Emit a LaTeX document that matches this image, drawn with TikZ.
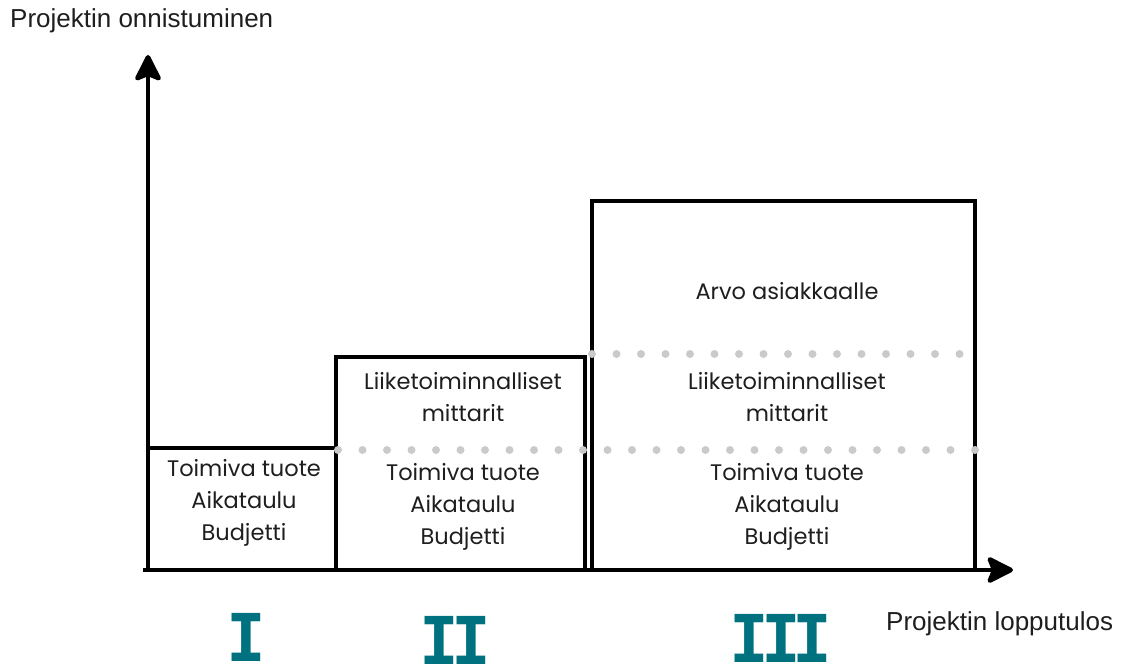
\documentclass[tikz,border=0pt]{standalone}
\usepackage{fontspec}
\setmainfont{Liberation Sans}
\newfontfamily\boxfont{Poppins}
\newfontfamily\numfont{DejaVu Sans Mono}
\usetikzlibrary{arrows.meta}
\definecolor{ink}{HTML}{1E1E1E}
\definecolor{teal}{HTML}{00717F}
\definecolor{dotgray}{HTML}{CACACA}
\newcommand{\nk}{\kern-8pt}
\tikzset{
  axis/.style={line width=4.5pt, black, -{Stealth[length=30pt,width=30pt,inset=6pt,round]}},
  stage/.style={line width=3.5pt, black},
  divider/.style={dotgray, line width=8pt, line cap=round, dash pattern=on 0pt off 24.5pt},
  boxtext/.style={font=\boxfont\fontsize{22.5}{32}\selectfont, text=ink, align=center, inner sep=0pt},
  axislabel/.style={font=\fontsize{26}{28}\selectfont, text=ink, inner sep=0pt},
  numeral/.style={font=\numfont\bfseries\fontsize{66}{66}\selectfont, text=teal,
    inner sep=0pt, text height=48pt, text depth=0pt, anchor=base}
}
\begin{document}
\begin{tikzpicture}[x=1pt,y=-1pt]
\useasboundingbox (0,0) rectangle (1127,666);

% stage boxes
\draw[stage] (148,448) rectangle (336,570);
\draw[stage] (336,357) rectangle (585,570);
\draw[stage] (592,201) rectangle (975,570);

% dotted dividers between levels
\coordinate (d1a) at (338,450);
\coordinate (d1b) at (975,450);
\coordinate (d2a) at (592,354);
\coordinate (d2b) at (975,354);
\draw[divider] (d1a) -- (d1b);
\draw[divider] (d2a) -- (d2b);

% axes
\coordinate (origin) at (148,570);
\coordinate (ytip) at (148,55);
\coordinate (xstart) at (143,570);
\coordinate (xtip) at (1013,570);
\draw[axis] (origin) -- (ytip);
\draw[axis] (xstart) -- (xtip);

% axis labels
\node[axislabel, anchor=west] (ylab) at (10,21) {Projektin onnistuminen};
\node[axislabel, anchor=west] (xlab) at (886,624) {Projektin lopputulos};

% box contents
\node[boxtext] (b1) at (244,503) {Toimiva tuote\\Aikataulu\\Budjetti};
\node[boxtext] (b2top) at (463,397) {Liiketoiminnalliset\\mittarit};
\node[boxtext] (b2) at (463,507) {Toimiva tuote\\Aikataulu\\Budjetti};
\node[boxtext] (b3a) at (787,291) {Arvo asiakkaalle};
\node[boxtext] (b3top) at (787,397) {Liiketoiminnalliset\\mittarit};
\node[boxtext] (b3) at (787,507) {Toimiva tuote\\Aikataulu\\Budjetti};

% stage numerals
\node[numeral] (n1) at (246,661) {I};
\node[numeral] (n2) at (455,664) {I\nk I};
\node[numeral] (n3) at (781,662) {I\nk I\nk I};
\end{tikzpicture}
\end{document}
